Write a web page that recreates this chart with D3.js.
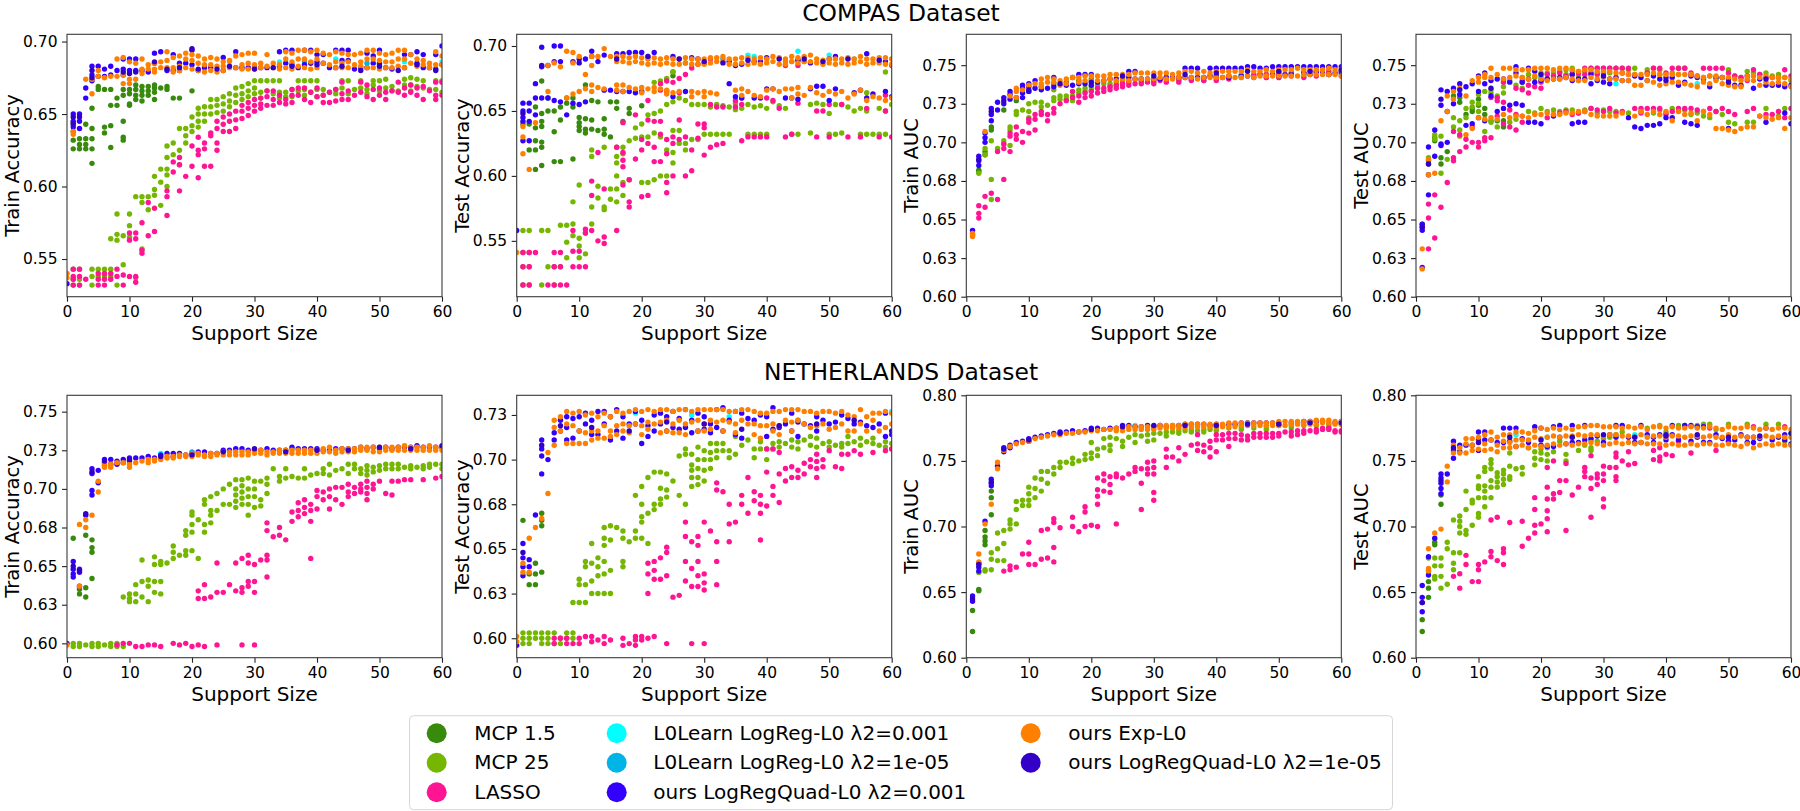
<!DOCTYPE html>
<html><head><meta charset="utf-8">
<script src="https://cdn.jsdelivr.net/npm/d3@7"></script>
<style>
html,body{margin:0;padding:0;background:#fff;}
svg{display:block;font-family:"DejaVu Sans",sans-serif;}
</style></head>
<body><svg id="chart" width="1800" height="811"></svg>
<script>
// ---------- labels / series ----------
const datasetTitles = ["COMPAS Dataset", "NETHERLANDS Dataset"];
const metricLabels = ["Train Accuracy", "Test Accuracy", "Train AUC", "Test AUC"];
const xLabel = "Support Size";
const xTicks = [0, 10, 20, 30, 40, 50, 60];
const xTickLabels = ["0", "10", "20", "30", "40", "50", "60"];
const xDomain = [0, 60];
const seriesKeys = ["mcp15", "mcp25", "lasso", "l0a", "l0b", "q3", "exp", "q5"];
const seriesNames = ["MCP 1.5", "MCP 25", "LASSO", "L0Learn LogReg-L0 λ2=0.001", "L0Learn LogReg-L0 λ2=1e-05", "ours LogRegQuad-L0 λ2=0.001", "ours Exp-L0", "ours LogRegQuad-L0 λ2=1e-05"];
const seriesColors = ["#378a0c", "#74b600", "#ff1493", "#00ffff", "#00b4e8", "#3300ff", "#ff8000", "#3300c8"];

// ---------- y axes ----------
const p1_yDomain = [0.524, 0.705], p1_yTicks = [0.55, 0.60, 0.65, 0.70], p1_yTickLabels = ["0.55", "0.60", "0.65", "0.70"];
const p2_yDomain = [0.507, 0.709], p2_yTicks = [0.55, 0.60, 0.65, 0.70], p2_yTickLabels = ["0.55", "0.60", "0.65", "0.70"];
const p3_yDomain = [0.60, 0.77], p3_yTicks = [0.60, 0.625, 0.65, 0.675, 0.70, 0.725, 0.75], p3_yTickLabels = ["0.60", "0.63", "0.65", "0.68", "0.70", "0.73", "0.75"];
const p4_yDomain = [0.60, 0.77], p4_yTicks = [0.60, 0.625, 0.65, 0.675, 0.70, 0.725, 0.75], p4_yTickLabels = ["0.60", "0.63", "0.65", "0.68", "0.70", "0.73", "0.75"];
const p5_yDomain = [0.5907, 0.7606], p5_yTicks = [0.60, 0.625, 0.65, 0.675, 0.70, 0.725, 0.75], p5_yTickLabels = ["0.60", "0.63", "0.65", "0.68", "0.70", "0.73", "0.75"];
const p6_yDomain = [0.5891, 0.736], p6_yTicks = [0.60, 0.625, 0.65, 0.675, 0.70, 0.725], p6_yTickLabels = ["0.60", "0.63", "0.65", "0.68", "0.70", "0.73"];
const p7_yDomain = [0.60, 0.80], p7_yTicks = [0.60, 0.65, 0.70, 0.75, 0.80], p7_yTickLabels = ["0.60", "0.65", "0.70", "0.75", "0.80"];
const p8_yDomain = [0.60, 0.80], p8_yTicks = [0.60, 0.65, 0.70, 0.75, 0.80], p8_yTickLabels = ["0.60", "0.65", "0.70", "0.75", "0.80"];

// ---------- data: rows are [supportSize, y1, y2, ...] ----------
// Panel 1: COMPAS Train Accuracy
const p1_mcp15 = [[1,.644,.638,.632,.626],[2,.633,.629,.626],[3,.643,.633,.629,.626],[4,.654,.640,.633,.626,.616],[5,.669,.667],[6,.667,.641,.637],[7,.667,.656,.642,.627],[8,.661,.656],[9,.667,.663,.645,.634,.632],[10,.667,.664,.657,.656],[11,.670,.667,.663,.660],[12,.669,.666,.663,.659],[13,.669,.666,.663],[14,.670,.668,.665,.660],[15,.668],[16,.669,.667],[17,.661],[18,.661],[20,.666]];
const p1_mcp25 = [[1,.543,.536,.532],[2,.543,.536,.532],[4,.543,.538,.532],[5,.543,.538],[6,.543,.538],[7,.564,.543,.538],[8,.581,.567,.563,.532],[9,.566,.546],[10,.581,.573,.565],[11,.593,.537],[12,.593,.589,.557],[13,.593,.584],[14,.607,.598,.594],[15,.612,.603,.587],[16,.628,.620,.612,.608,.600],[17,.630,.622],[18,.640,.625,.615],[19,.640,.635,.630],[20,.648,.642,.638],[21,.654,.650,.645,.641],[22,.655,.650,.645],[23,.660,.655,.650],[24,.660,.656,.651],[25,.662,.657,.652],[26,.664,.659,.655],[27,.668,.663,.658],[28,.669,.664,.660],[29,.671,.666,.662],[30,.673,.668,.664],[31,.673,.665,.661],[32,.673,.666],[33,.673,.664],[34,.673,.665,.661],[35,.665,.662],[36,.667,.662],[37,.673,.666],[38,.673,.667,.663],[39,.673,.665],[40,.673,.667,.662],[41,.667,.663],[42,.665],[43,.667,.664],[44,.673,.668],[45,.673,.664],[46,.667],[47,.673,.668],[48,.667,.664],[49,.673,.670],[50,.673,.666],[51,.674,.668],[52,.669,.666],[53,.666],[54,.674,.670],[55,.675,.670,.666],[56,.674,.669],[57,.673,.668],[58,.667],[59,.673,.667],[60,.673,.665]];
const p1_lasso = [[1,.543,.538,.536,.532],[2,.543,.538,.532],[3,.536],[5,.540,.536,.532],[6,.540,.536,.532],[7,.540,.536],[8,.543,.538],[9,.539,.532],[10,.568,.563,.538],[11,.568,.564,.538,.534],[12,.575,.556,.554],[13,.589,.566],[14,.585,.569],[16,.597,.593,.580],[17,.617,.610],[18,.620,.615,.597],[19,.607],[20,.628,.614],[21,.634,.625,.622,.606],[22,.630,.626,.614],[23,.637,.635,.614],[24,.645,.640,.630,.625],[25,.648,.643,.638],[26,.650,.645,.638],[27,.652,.646,.640],[28,.656,.652,.647],[29,.658,.654,.649],[30,.660,.656,.652],[31,.661,.657,.654],[32,.666,.662,.656],[33,.666,.660,.656],[34,.663,.658],[35,.660,.657],[36,.667,.663,.658],[37,.668,.663],[38,.668,.660],[39,.665,.658],[40,.668,.662],[41,.663,.658],[42,.665,.658],[43,.667,.659],[44,.672,.664,.660],[45,.666,.660],[46,.663],[47,.672,.665],[48,.670,.662],[49,.667,.660],[50,.668,.663],[51,.665,.660],[52,.666],[53,.672,.665],[54,.668,.663],[55,.670,.665],[56,.668,.663],[57,.669,.660],[58,.666],[59,.672,.663,.660],[60,.672,.663]];
const p1_l0a = [[26,.686],[34,.686],[43,.688],[50,.684],[54,.686],[60,.686]];
const p1_l0b = [[38,.686],[48,.685]];
const p1_q3 = [[0,.533],[1,.650,.645,.641],[2,.650,.645,.640],[3,.668,.661],[4,.683,.677,.673],[5,.683,.676],[6,.681,.676],[7,.683,.677],[8,.680],[9,.688,.681,.677],[10,.688,.680],[11,.688,.680],[12,.680],[13,.679],[14,.692,.685],[15,.693],[16,.680],[17,.691,.680],[18,.685,.680],[19,.685],[20,.694,.684],[21,.680],[22,.682],[23,.682],[25,.689,.680],[27,.693,.682],[28,.682],[29,.682],[30,.682],[31,.682],[32,.682],[34,.693,.683],[35,.694,.685],[36,.694,.684],[37,.682],[38,.694,.684],[39,.694,.685],[40,.691,.686],[41,.691,.685],[42,.682],[43,.694,.682],[44,.694,.687],[45,.694,.687],[46,.681],[47,.682],[48,.692,.682],[49,.690,.685],[50,.694,.685],[51,.682],[52,.681],[54,.691,.682],[55,.691],[56,.693,.685],[57,.691,.682],[58,.682],[59,.691,.681],[60,.697,.684]];
const p1_exp = [[0,.540,.537],[1,.638,.636],[3,.674],[4,.664,.674],[5,.680,.676],[6,.675],[7,.676],[8,.688,.676],[9,.689,.677,.671],[10,.686,.674,.671],[11,.685,.674],[12,.688,.681,.678],[13,.684,.681],[14,.685,.681,.679],[15,.686,.682],[16,.693,.687,.682],[17,.689,.682,.679],[18,.690,.683,.680],[19,.692,.688,.682],[20,.691,.687,.681],[21,.690,.685,.680],[22,.688,.684,.679],[23,.689,.684,.680],[24,.688,.683,.679],[25,.686,.683,.680],[26,.687,.682],[27,.690,.682],[28,.691,.684,.681],[29,.692,.685,.681],[30,.692,.684,.681],[31,.685,.682],[32,.691,.683],[33,.685,.682],[34,.684,.681],[35,.693,.688,.682],[36,.692,.686,.681],[37,.694,.688,.683],[38,.694,.688,.682],[39,.693,.686,.681],[40,.694,.688,.682],[41,.692,.685],[42,.691,.684],[43,.693,.686,.682],[44,.692,.685,.682],[45,.691,.686,.682],[46,.691,.684],[47,.692,.686,.683],[48,.694,.688,.682],[49,.694,.688,.682],[50,.692,.687,.681],[51,.691,.686,.682],[52,.692,.686,.682],[53,.694,.688,.683],[54,.694,.688,.682],[55,.691,.685],[56,.688,.683],[57,.687,.684],[58,.685,.682],[59,.693,.684],[60,.690,.684]];
const p1_q5 = [[1,.648,.643],[2,.648],[4,.680,.675],[9,.679],[10,.678],[11,.679],[14,.686],[16,.681],[18,.682],[20,.695],[21,.681],[24,.681],[26,.683],[30,.681],[33,.682],[36,.683],[40,.684],[44,.683],[47,.680],[50,.683],[53,.680],[56,.684],[59,.680]];

// Panel 2: COMPAS Test Accuracy
const p2_mcp15 = [[1,.640],[2,.640,.620],[3,.653,.637,.627,.620,.605],[4,.673,.648,.642,.638,.626,.622,.608],[5,.660,.650],[6,.650,.634,.611],[7,.653,.643,.611],[8,.660,.656],[9,.660,.653,.613],[10,.645,.641,.638,.635],[11,.670,.644,.636,.633],[12,.658,.643,.636],[13,.657,.635],[14,.644,.636,.632],[15,.657,.630],[16,.657,.652],[17,.642],[18,.652,.648],[20,.654],[25,.680,.677],[27,.687]];
const p2_mcp25 = [[1,.558,.541,.530,.516],[2,.558,.541,.530,.516],[4,.558,.516],[5,.558,.530],[6,.530,.516],[7,.562,.530],[8,.562,.549,.537],[9,.580,.563,.554],[10,.593,.552,.546,.537],[11,.556,.540],[12,.620,.615,.576,.563],[13,.592,.583],[14,.622,.576,.574],[15,.590,.582],[16,.622,.615,.610,.600,.590,.580],[17,.622,.617,.595,.585],[18,.627,.597],[19,.637,.629],[20,.640,.630,.595],[21,.647,.630,.595],[22,.672,.648,.633,.597],[23,.673,.650,.630,.600],[24,.675,.655,.620,.600],[25,.680,.657,.635,.618,.610],[26,.660,.635,.625],[27,.658,.625,.620],[28,.655,.628],[29,.655,.628],[30,.655,.632],[31,.653,.632],[32,.655,.632],[33,.654,.632],[34,.653,.632],[35,.656,.651],[36,.652],[37,.655,.632],[38,.653,.632],[39,.654,.632],[40,.652,.632],[41,.657],[42,.654],[43,.688,.652],[44,.688,.632],[45,.689,.632],[46,.688],[47,.655,.633],[48,.656],[49,.655],[50,.648,.632],[51,.655,.632],[52,.655,.633],[53,.653],[54,.650],[55,.652,.632],[56,.664,.650,.632],[57,.632],[58,.652,.632],[59,.680,.650,.632],[60,.655]];
const p2_lasso = [[1,.541,.530,.516],[2,.541,.530,.516],[3,.541],[5,.516],[6,.541,.530,.516],[7,.541,.530,.516],[8,.516],[9,.558,.542,.530],[10,.542,.530],[11,.559,.556,.530],[12,.596,.585,.558],[13,.618,.550],[14,.590,.553,.548],[16,.622,.558],[17,.641,.618,.612,.607,.593],[18,.597,.580,.576],[19,.647,.613],[20,.628,.620,.584],[21,.658,.643,.625,.585],[22,.642,.622,.611],[23,.671,.666,.642,.632,.611],[24,.673,.665,.628,.617,.595,.587],[25,.672,.630,.625,.600],[26,.675,.664,.643,.628],[27,.678,.630,.600],[28,.683,.620,.604],[29,.686,.640,.629],[30,.687,.640,.637,.616],[31,.690,.655,.622],[32,.653,.624],[33,.653,.625],[35,.658,.653],[36,.660,.655,.627],[37,.630],[38,.630],[39,.630],[40,.660,.630],[41,.658],[42,.652],[43,.685,.630],[44,.632],[45,.685,.656],[48,.650,.630],[49,.650],[50,.655,.630],[52,.655],[53,.630],[55,.630],[56,.652],[58,.630],[59,.662,.650],[60,.685,.630]];
const p2_l0a = [[37,.693],[38,.692],[45,.696],[50,.693],[54,.690],[60,.690]];
const p2_l0b = [[21,.692],[33,.690]];
const p2_q3 = [[0,.558],[1,.656,.650,.645,.642,.627],[2,.656,.650,.642,.627],[3,.671,.660,.647],[4,.699,.684,.660],[5,.685,.660],[6,.700,.688,.658],[7,.700,.688,.657],[8,.647],[9,.688,.656],[10,.690,.655],[11,.690,.657],[12,.696,.692],[13,.688],[14,.693,.666],[15,.666],[16,.694,.665],[17,.694,.665],[18,.695,.665],[19,.695,.664],[20,.695,.665],[22,.695],[25,.692,.661],[27,.665],[28,.691],[29,.690],[34,.671,.688],[35,.685,.661],[36,.686,.660],[38,.688,.660],[39,.688,.660],[40,.691,.667],[41,.667],[43,.660],[44,.660],[45,.689,.659],[47,.687,.667],[48,.669],[49,.669],[50,.690,.658],[51,.692,.667],[54,.664],[55,.666],[56,.694,.660],[57,.663],[59,.688,.665],[60,.661]];
const p2_exp = [[0,.541],[1,.638,.630,.617],[2,.605],[3,.641],[5,.685,.665],[6,.687],[7,.684],[8,.696,.660],[9,.695,.687,.663],[10,.692,.665],[11,.678,.667],[12,.692,.685,.670,.665],[13,.692,.668],[14,.698,.667],[15,.692],[16,.692,.688,.670,.666],[17,.692,.688,.670,.665],[18,.691,.687,.668],[19,.692,.688,.667],[20,.691,.687,.668,.664],[21,.690,.686,.667],[22,.691,.687,.668,.665],[23,.690,.686,.667],[24,.691,.687,.666,.663],[25,.690,.686,.664],[26,.690,.686,.665],[27,.691,.687],[28,.690,.686,.665,.661],[29,.690,.686,.664],[30,.690,.686,.665,.661],[31,.691,.687,.664],[32,.691,.688,.663],[33,.692,.688],[34,.690,.686],[35,.690,.686,.666],[36,.691,.687,.667,.662],[37,.691,.686,.665],[38,.690,.687,.662],[39,.691,.686,.661],[40,.690,.687,.666],[41,.692,.688,.667],[42,.691,.686,.665],[43,.690,.686,.667],[44,.692,.688,.667,.660],[45,.691,.687,.668,.663],[46,.692,.688,.662],[47,.693,.688,.668],[48,.690,.687,.664],[49,.689,.686,.662],[50,.690,.687,.665],[51,.690,.686,.663],[52,.690,.687,.665],[53,.691,.686,.660],[54,.690,.687,.663],[55,.692,.688,.666],[56,.690,.686,.658],[57,.690,.687,.661],[58,.691,.687,.660],[59,.691,.686,.658],[60,.690,.686,.660]];
const p2_q5 = [[1,.648],[4,.685],[10,.687],[16,.690],[21,.692],[26,.690],[30,.688],[33,.687],[37,.689],[42,.690],[46,.690],[49,.688],[53,.690],[58,.689]];

// Panel 3: COMPAS Train AUC
const p3_mcp15 = [[2,.682,.681],[3,.694,.692],[4,.710,.708],[6,.721],[8,.727],[10,.733],[12,.736],[14,.738],[16,.739],[18,.740],[20,.741]];
const p3_mcp25 = [[2,.680],[3,.696,.692],[4,.701,.676,.663],[5,.696],[6,.701,.699],[7,.710,.708,.698],[8,.720,.718],[9,.721],[10,.725,.720,.716],[11,.726],[12,.726,.723],[13,.724],[14,.734,.729,.727],[15,.730,.728],[16,.730,.728],[17,.730,.727],[18,.734,.732],[19,.735,.733],[20,.736,.734],[21,.737,.735],[22,.738],[23,.738,.736],[24,.739,.737],[25,.740,.738],[26,.740],[28,.741,.739],[30,.741,.739],[32,.741],[34,.742,.740],[36,.741],[38,.742,.740],[40,.743,.741],[42,.743],[44,.744,.742],[46,.743],[48,.744,.742],[50,.745,.742],[52,.745],[54,.745,.743],[56,.746],[58,.748,.745],[60,.746]];
const p3_lasso = [[2,.659,.654,.651],[3,.665,.658],[4,.667],[5,.694,.663],[6,.699,.696,.676],[7,.706,.704,.694],[8,.710,.705,.702],[9,.707,.700],[10,.715,.713,.706],[11,.718,.715,.708],[12,.720,.718],[13,.718,.714],[14,.722,.719],[15,.725],[16,.727],[17,.733,.729],[18,.730,.726],[19,.732,.729],[20,.733,.730],[21,.735,.732],[22,.735,.733],[23,.736,.734],[24,.737,.735],[25,.738,.736],[26,.739,.737],[27,.738],[28,.740,.738],[29,.739],[30,.740,.738],[31,.740],[32,.741,.739],[34,.741,.739],[36,.741,.740],[38,.742,.740],[40,.742,.740],[42,.743,.741],[44,.743],[46,.744,.742],[48,.744,.742],[50,.745,.742],[52,.745,.743],[54,.745,.742],[56,.746,.743],[58,.746,.744],[60,.746,.743]];
const p3_l0a = [[26,.743],[44,.744],[54,.744],[60,.744]];
const p3_l0b = [[32,.742]];
const p3_q3 = [[1,.643,.640],[2,.691,.688,.685],[3,.706,.703,.700],[4,.722,.718,.714],[5,.726,.721],[6,.729,.725],[7,.733,.731,.728],[8,.729],[9,.737,.735,.732,.729],[10,.738,.736,.733],[11,.740,.735],[12,.734],[13,.735],[14,.742,.736],[16,.737],[17,.742,.737],[18,.744,.738],[19,.744,.738],[20,.744,.737],[21,.739],[22,.740],[23,.741],[24,.741],[25,.742],[26,.746,.742],[27,.746,.741],[28,.741],[29,.741],[30,.741],[31,.741],[32,.742],[33,.742],[34,.742],[35,.748,.742],[36,.748,.742],[37,.748,.742],[38,.742],[39,.748,.743],[40,.748,.743],[41,.748,.742],[42,.748,.742],[43,.748],[44,.748,.743],[45,.749,.743],[46,.749],[47,.748,.744],[48,.748],[49,.749,.744],[50,.749,.743],[51,.749,.744],[52,.749,.744],[53,.749],[54,.749,.745],[55,.749,.744],[56,.749,.745],[57,.749,.745],[58,.749,.744],[59,.749,.745],[60,.749,.745]];
const p3_exp = [[1,.641,.639],[3,.707],[7,.730],[8,.735,.733,.729],[9,.734],[10,.737],[11,.738],[12,.741,.738,.736],[13,.742,.739],[14,.741,.739],[15,.740,.737],[16,.741,.738],[17,.742],[18,.742,.739],[19,.743,.740],[20,.743,.740],[21,.743,.740],[22,.743,.740],[23,.744,.741],[24,.744,.740],[25,.744,.741],[26,.744,.740],[27,.745,.741],[28,.745,.741],[29,.745,.741],[30,.745,.741],[31,.745,.742],[32,.745,.741],[33,.744,.741],[34,.745,.742],[35,.746,.742],[36,.746,.742],[37,.745,.741],[38,.746,.742],[39,.745,.742],[40,.746,.742],[41,.746,.742],[42,.746,.743],[43,.746,.742],[44,.746,.742],[45,.747,.743],[46,.746,.742],[47,.746,.743],[48,.747,.743],[49,.746,.743],[50,.747,.743],[51,.747,.743],[52,.747,.743],[53,.748,.743],[54,.747,.744],[55,.747,.744],[56,.747,.744],[57,.747,.744],[58,.748,.744],[59,.747,.744],[60,.747,.743]];
const p3_q5 = [[2,.689],[4,.720],[6,.727],[10,.734],[15,.738],[20,.739],[25,.743],[30,.743],[35,.744],[40,.745],[45,.746],[50,.746],[55,.746],[60,.747]];

// Panel 4: COMPAS Test AUC
const p4_mcp15 = [[1,.647],[2,.688,.686],[3,.703,.701],[4,.690,.686],[5,.694],[6,.730],[7,.729,.726],[8,.718],[9,.722,.720],[10,.728,.724],[11,.722,.718],[12,.714],[13,.714],[14,.714,.710]];
const p4_mcp25 = [[2,.690],[3,.705,.702],[4,.704,.680],[5,.689],[6,.716,.710],[7,.714,.708,.704],[8,.722,.716],[9,.726,.723],[10,.731,.725,.720],[11,.733,.707],[12,.734,.732,.713],[13,.730,.710],[14,.740,.736,.732],[15,.740,.713],[16,.737,.715],[17,.742,.739,.735],[18,.744,.720],[19,.742,.719],[20,.745,.742,.722],[21,.745,.720],[22,.745,.743,.721],[23,.746,.720],[24,.747,.744,.721],[25,.748,.746,.721],[26,.746,.743,.719],[27,.746,.721],[28,.748,.745,.722],[29,.748,.745,.719],[30,.748,.721],[31,.748,.745,.720],[32,.748,.720],[33,.748,.745],[34,.747,.719],[35,.748,.744],[36,.720],[37,.747,.745],[38,.748,.719],[39,.747,.744,.721],[40,.719],[41,.745,.722],[42,.748,.744],[43,.748,.721],[44,.744,.718],[45,.719],[46,.742,.717],[47,.743,.716],[48,.741,.720],[49,.742,.718],[50,.747,.713],[51,.743,.712],[52,.742],[53,.746,.713],[54,.745,.713],[55,.744],[56,.745,.722],[57,.743],[58,.744,.717],[59,.742,.722],[60,.740]];
const p4_lasso = [[1,.645],[2,.660,.651,.631],[3,.666,.638],[4,.658],[5,.674],[6,.707,.690,.688],[7,.705,.694],[8,.702,.697],[9,.710,.700],[10,.700,.697],[11,.701,.703],[12,.729,.703],[13,.729,.727,.717],[14,.739,.726,.712],[15,.721,.710],[16,.735,.718,.708],[17,.740,.734,.717,.713],[18,.737,.732],[19,.736],[20,.739,.735],[21,.744,.741,.716],[22,.743,.718],[23,.745,.741,.719],[24,.743,.720],[25,.744,.718],[26,.745,.719],[27,.748,.744,.720],[28,.748,.745,.722],[29,.748,.744,.721],[30,.748,.745,.720],[31,.748,.722],[32,.748,.719],[33,.748,.745,.720],[34,.748,.744],[35,.722],[36,.722,.719],[37,.745,.722],[38,.748,.722],[39,.748,.722],[40,.745,.718],[41,.748,.720],[42,.748,.722],[43,.748,.722],[44,.745,.722],[45,.743,.721],[46,.748,.720],[47,.748,.722],[48,.748,.720],[49,.748,.722],[50,.745,.720],[51,.743,.718],[52,.742],[53,.740,.720],[54,.747,.722],[55,.744,.717],[56,.742,.718],[57,.742,.718],[58,.742,.720],[59,.747,.716],[60,.743,.722]];
const p4_l0a = [[20,.742],[32,.738],[45,.738],[54,.743]];
const p4_l0b = [[26,.740]];
const p4_q3 = [[1,.647,.643,.619],[2,.697,.679,.666],[3,.708,.691],[4,.734,.724,.699,.698],[5,.733,.720,.700],[6,.735,.725],[7,.738,.731],[8,.736,.711],[9,.738,.712],[10,.743,.733,.716],[11,.745,.738,.714],[12,.740,.730],[13,.741,.720],[14,.741,.722],[15,.739,.724],[16,.749,.745,.725],[17,.739,.724],[18,.748,.741,.713],[19,.746,.739,.713],[20,.740,.712],[21,.741],[22,.741,.717],[23,.742],[24,.742],[25,.744,.740,.712],[26,.741,.713],[27,.741,.713],[28,.744,.738],[29,.740],[30,.739],[31,.741,.738],[32,.742],[33,.740],[34,.740,.716],[35,.743,.710],[36,.742,.709],[37,.740,.711],[38,.743,.711],[39,.741,.712],[40,.742,.716],[41,.742,.716],[42,.737],[43,.739,.713],[44,.743,.712],[45,.742,.711],[46,.741],[47,.736],[48,.742],[49,.742],[50,.741,.709],[51,.737],[52,.737],[53,.743],[54,.735],[55,.741],[56,.737,.713],[57,.737],[58,.737],[59,.736,.719],[60,.737,.712]];
const p4_exp = [[1,.631,.618],[2,.689,.679],[3,.680],[4,.714],[5,.730,.720],[6,.733,.728],[7,.735],[8,.730,.705],[9,.740,.709],[10,.742,.739,.716],[11,.744,.742,.715],[12,.748,.742,.716],[13,.744,.715],[14,.748,.741,.718],[15,.748,.742,.716],[16,.747,.743,.717],[17,.747,.742,.717],[18,.747,.741,.716],[19,.748,.743,.718],[20,.748,.741,.718],[21,.748,.740,.719],[22,.747,.741,.718],[23,.748,.741,.718],[24,.748,.742,.719],[25,.747,.741,.719],[26,.746,.740,.720],[27,.747,.740,.720],[28,.747,.742,.718],[29,.746,.741,.717],[30,.746,.742,.717],[31,.746,.741,.717],[32,.745,.741,.717],[33,.745,.740,.719],[34,.744,.740],[35,.744,.737,.717],[36,.744,.737,.720],[37,.744,.740,.718],[38,.745,.739,.720],[39,.744,.737,.718],[40,.744,.738,.720],[41,.744,.739,.714],[42,.744,.739,.720],[43,.744,.738,.718],[44,.744,.737,.719],[45,.743,.736,.714],[46,.742,.739,.720],[47,.743,.738,.718],[48,.743,.740,.709],[49,.742,.738,.709],[50,.742,.737,.708],[51,.741,.736,.707],[52,.740,.736,.709],[53,.743,.741,.710],[54,.743,.740,.710],[55,.742,.737,.717],[56,.743,.739,.716],[57,.742,.738,.715],[58,.742,.739,.716],[59,.742,.738,.709],[60,.741,.736,.716]];
const p4_q5 = [[1,.645],[2,.686],[4,.728],[7,.734],[12,.735],[20,.744],[30,.743],[40,.740],[50,.739],[56,.741]];

// Panel 5: NETHERLANDS Train Accuracy
const p5_mcp15 = [[1,.668],[2,.635,.632],[3,.670,.636,.630],[4,.667,.662,.659,.642]];
const p5_mcp25 = [[1,.600,.598],[2,.600,.598],[3,.599],[4,.600,.598],[5,.600,.598],[6,.599],[7,.600,.598],[8,.600,.598],[9,.598,.630],[10,.632,.629,.627],[11,.638,.632,.627],[12,.654,.640,.630],[13,.641,.637,.627],[14,.656,.651,.640,.633],[15,.653,.651,.640,.632],[16,.652],[17,.663,.659,.655],[18,.657],[19,.673,.670,.660,.657],[20,.685,.683,.677,.672,.660],[21,.680,.655],[22,.693,.690,.677,.672],[23,.695,.686,.683,.678],[24,.697,.686],[25,.700,.690],[26,.703,.690],[27,.706,.700,.696,.692,.688],[28,.706,.702,.698,.694,.690],[29,.707,.700,.695,.690,.683],[30,.705,.700,.695,.688],[31,.705,.693,.689],[32,.707,.703,.697],[33,.713],[34,.708,.705],[35,.713,.707],[36,.708],[37,.707],[38,.713,.707],[39,.709],[40,.710],[41,.713,.710],[42,.716,.709],[43,.712],[44,.713],[45,.716,.710],[46,.716,.713],[47,.713,.710],[48,.715,.712,.709],[49,.714,.711],[50,.715,.712],[51,.716,.713],[52,.716,.713],[53,.716,.713],[54,.714],[55,.715,.713],[56,.714],[57,.715,.713],[58,.716,.714],[59,.716],[60,.716,.713]];
const p5_lasso = [[8,.599],[9,.600],[10,.600],[11,.598],[12,.598],[13,.599],[14,.599],[15,.598],[17,.600],[18,.599],[19,.600],[20,.598],[21,.599,.634,.629],[22,.638,.629,.598],[23,.630],[24,.652,.633,.599],[25,.633],[26,.638],[27,.652,.634],[28,.655,.636,.633,.599],[29,.657,.652,.640,.637],[30,.651,.640,.633,.599],[31,.654],[32,.678,.673,.657,.654,.643],[33,.669],[34,.675,.670],[35,.667],[36,.685,.679],[37,.691,.686,.682],[38,.693,.688,.684],[39,.690,.686,.679,.655],[40,.699,.695,.687],[41,.698,.693],[42,.700,.695,.687],[43,.701,.693],[44,.701,.690],[45,.703,.698,.695],[46,.701,.697],[47,.703,.700,.698],[48,.705,.701,.697,.693],[49,.703,.700],[50,.705],[51,.697],[52,.705,.696],[53,.705],[54,.706],[55,.706],[57,.706],[59,.707],[60,.708]];
const p5_l0a = [[15,.723],[36,.726]];
const p5_l0b = [[20,.724]];
const p5_q3 = [[0,.600],[1,.653,.648,.645,.643],[2,.648,.646,.637],[3,.683],[4,.713,.710,.699,.696],[5,.712,.704],[6,.719,.717,.715],[7,.719,.716],[8,.718,.716],[9,.719,.717],[10,.720,.718],[11,.720],[12,.720],[13,.721],[14,.720],[15,.722],[16,.723],[17,.723,.721],[18,.723],[19,.722],[20,.723],[21,.724],[22,.724],[23,.723],[24,.723],[25,.725],[26,.725],[27,.726],[28,.726],[29,.725],[30,.725],[31,.725],[32,.726],[33,.725],[34,.725],[35,.725],[36,.727],[37,.726],[38,.726],[39,.726],[40,.726],[41,.725],[42,.725],[43,.726],[44,.726],[45,.726],[46,.726],[47,.727],[48,.726],[49,.727],[50,.726],[51,.727],[52,.726],[53,.727],[54,.727],[55,.727],[56,.728],[57,.727],[58,.727],[59,.727],[60,.727]];
const p5_exp = [[0,.599],[2,.677,.637],[3,.680,.675],[4,.683],[5,.705,.698],[6,.716,.714],[7,.716,.714],[8,.717],[9,.717],[10,.716,.714],[11,.717],[12,.718],[13,.719,.717],[14,.719,.718],[15,.720,.719],[16,.721,.720],[17,.721,.720],[18,.722,.721],[19,.722,.721],[20,.723,.721],[21,.723,.722],[22,.722,.721],[23,.723,.721],[24,.723,.722],[25,.724,.722],[26,.724,.722],[27,.724,.722],[28,.724,.722],[29,.724,.722],[30,.724,.723],[31,.725,.723],[32,.724,.722],[33,.724,.723],[34,.725,.723],[35,.725,.723],[36,.725,.723],[37,.725,.723],[38,.725,.723],[39,.725,.723],[40,.725,.723],[41,.726,.724],[42,.727,.724],[43,.725,.723],[44,.726,.724],[45,.726,.724],[46,.726,.724],[47,.727,.725],[48,.727,.725],[49,.727,.724],[50,.727,.724],[51,.727,.725],[52,.727,.725],[53,.727,.725],[54,.728,.725],[55,.727,.725],[56,.727,.725],[57,.727,.725],[58,.728,.725],[59,.727,.725],[60,.727,.725]];
const p5_q5 = [[1,.650],[2,.647],[3,.684],[4,.711],[6,.718],[10,.719],[15,.721],[20,.722],[25,.724],[30,.726],[35,.724],[40,.725],[45,.725],[50,.727],[55,.726],[60,.728]];

// Panel 6: NETHERLANDS Test Accuracy
const p6_mcp15 = [[1,.666],[2,.636,.630],[3,.642,.636,.630],[4,.670,.666,.663,.637]];
const p6_mcp25 = [[1,.603,.600,.597],[2,.603,.600,.597],[3,.603,.600],[4,.603,.600,.597],[5,.603,.600,.597],[6,.603,.597],[7,.600,.597],[8,.603,.600],[9,.603,.600,.620],[10,.633,.630,.620],[11,.643,.640,.630,.620],[12,.653,.642,.632,.625],[13,.645,.640,.635,.625],[14,.662,.656,.652,.643,.636,.625],[15,.663,.655,.638,.625],[16,.662],[17,.660,.656,.643,.640],[18,.654],[19,.680,.660,.656],[20,.685,.675,.668,.665,.656],[21,.690,.670,.653],[22,.693,.675,.672],[23,.693,.684,.678,.675],[24,.692,.683,.679],[25,.688],[26,.702,.680],[27,.706,.703,.675],[28,.703,.697,.694,.690,.685],[29,.707,.700,.695,.690,.686],[30,.705,.700,.694,.688],[31,.709,.704,.700,.695],[32,.709,.705,.701],[33,.709,.705],[34,.705,.701],[35,.713,.703],[36,.708],[37,.711],[38,.706,.701],[39,.710,.706],[40,.706,.700],[41,.709,.706],[42,.710,.707],[43,.709],[44,.711,.707],[45,.710,.706],[46,.711],[47,.713,.708],[48,.712,.707],[49,.709],[50,.710,.707],[51,.708],[52,.709,.707],[53,.713,.709],[54,.710],[55,.712,.708],[56,.710],[57,.712,.709],[58,.708],[59,.710,.707],[60,.709,.706]];
const p6_lasso = [[6,.600,.597],[7,.600],[8,.600,.597],[9,.597],[10,.600,.597],[11,.601],[12,.601,.598],[13,.599],[14,.601,.597],[15,.599],[17,.600,.596],[18,.597],[19,.601,.599,.596],[20,.601,.599],[21,.600,.642,.636,.625],[22,.643,.638,.633,.601],[23,.645,.633],[24,.651,.648,.635,.597],[25,.623],[26,.624],[27,.665,.657,.643,.632],[28,.654,.639,.629,.597],[29,.657,.652,.643,.635,.629],[30,.665,.636,.631,.627,.597],[31,.660],[32,.687,.683,.654,.643,.630],[33,.682],[34,.675,.664,.654],[35,.665],[36,.680,.675],[37,.690,.670],[38,.682,.677],[39,.680,.675,.670,.655],[40,.706,.693,.674],[41,.706,.685,.680],[42,.704,.692,.676],[43,.695,.688],[44,.696,.690],[45,.694,.690],[46,.698,.692],[47,.700,.696],[48,.703,.699,.695,.690],[49,.700,.696],[50,.705],[51,.696],[52,.703,.695],[53,.703],[54,.705],[55,.703],[57,.704],[59,.705],[60,.706]];
const p6_l0a = [[19,.726],[28,.725],[34,.724],[60,.727]];
const p6_l0b = [[45,.722]];
const p6_q3 = [[0,.596],[1,.653,.645,.640,.635],[2,.644,.640],[3,.669],[4,.711,.706,.702,.692],[5,.700],[6,.715,.711],[7,.722,.716],[8,.724,.718,.711],[9,.723,.712],[10,.724,.716],[11,.726,.720],[12,.722,.714],[13,.727,.714],[14,.727,.720],[15,.724,.711],[16,.728,.716],[17,.724,.712],[18,.720],[19,.727,.720],[20,.722,.709],[21,.719,.713],[22,.725,.716],[23,.726,.720],[24,.724,.716],[25,.727,.718],[26,.723,.717],[27,.728,.718],[28,.722,.715],[29,.726,.716],[30,.724,.717],[31,.720,.715],[32,.728,.718],[33,.729,.716],[34,.722],[35,.727,.714],[36,.726,.712],[37,.723],[38,.722],[39,.725],[40,.724,.713],[41,.729,.717],[42,.718],[43,.720],[44,.726,.716],[45,.721,.713],[46,.720],[47,.719],[48,.724,.716],[49,.722],[50,.720],[51,.721],[52,.725],[53,.723],[54,.720],[55,.721],[56,.719],[57,.718],[58,.720],[59,.726,.713],[60,.714]];
const p6_exp = [[0,.601,.598],[1,.642,.637],[2,.656,.637],[3,.662],[4,.667],[5,.704,.681],[6,.722,.718,.708],[7,.724,.716],[8,.727,.720,.709],[9,.726,.719,.709],[10,.727,.716,.709],[11,.725,.715,.709],[12,.726,.716,.711],[13,.724,.716,.712],[14,.726,.719,.712],[15,.724,.716,.713],[16,.727,.719,.714],[17,.726,.720,.716],[18,.727,.719,.715],[19,.728,.720],[20,.727,.719,.714],[21,.728,.721,.717],[22,.727,.720],[23,.728,.721,.715],[24,.728,.722,.716],[25,.727,.720,.715],[26,.728,.722,.715],[27,.728,.720,.714],[28,.727,.721],[29,.728,.722,.716],[30,.728,.720,.716],[31,.728,.722,.717],[32,.728,.721],[33,.728,.722,.716],[34,.727,.721],[35,.727,.720,.715],[36,.728,.722],[37,.728,.720],[38,.727,.720,.714],[39,.726,.719,.712],[40,.726,.719],[41,.727,.720,.716],[42,.727,.719,.714],[43,.728,.722],[44,.728,.721,.716],[45,.728,.722],[46,.727,.720],[47,.727,.718],[48,.726,.719],[49,.727,.720],[50,.727,.717],[51,.726,.718],[52,.727,.720],[53,.725,.716],[54,.724,.716],[55,.728,.720],[56,.724,.716],[57,.726,.722],[58,.726,.716],[59,.727,.718],[60,.726,.720]];
const p6_q5 = [[1,.648],[4,.708],[7,.719],[12,.718],[18,.716],[24,.721],[30,.720],[36,.717],[42,.719],[48,.720],[54,.722],[60,.716]];

// Panel 7: NETHERLANDS Train AUC
const p7_mcp15 = [[1,.636,.620],[2,.652,.651],[3,.697,.692,.689,.686],[4,.727,.722,.709]];
const p7_mcp25 = [[2,.665],[3,.667,.666],[4,.680,.675,.667],[5,.695,.683,.674],[6,.697,.687,.674],[7,.705,.702,.698],[8,.719,.713,.702],[9,.720,.716],[10,.730,.725,.720,.716],[11,.737,.729,.722],[12,.742,.736,.727],[13,.742,.733],[14,.745,.740],[15,.749,.745],[16,.749],[17,.752,.748],[18,.750],[19,.755,.751],[20,.764,.756,.752],[21,.759,.754],[22,.767,.760],[23,.768,.762,.758],[24,.767],[25,.765,.761],[26,.768],[27,.770,.764],[28,.769],[29,.770,.765],[30,.771,.766],[31,.771],[32,.772,.769],[33,.772],[34,.773,.771],[35,.773],[36,.774,.772],[37,.773],[38,.774,.772],[39,.774],[40,.775,.773],[42,.775],[44,.776,.774],[46,.775],[48,.776,.774],[50,.777],[52,.777,.775],[54,.777],[56,.777],[58,.778,.776],[60,.778]];
const p7_lasso = [[6,.666],[7,.670,.667],[8,.669],[9,.679],[10,.688,.679,.671],[11,.671],[12,.697,.675],[13,.698,.676],[14,.706,.703,.684,.673],[15,.699],[17,.707,.700],[18,.696],[19,.715,.711,.700],[20,.701],[21,.737,.728,.723,.717,.700],[22,.740,.735,.727],[23,.738,.732,.726],[24,.740,.738,.702],[25,.737],[26,.740],[27,.745,.742],[28,.744,.733,.713],[29,.749,.744,.740],[30,.750,.745,.740,.726,.720],[32,.759,.753,.745],[33,.753],[34,.760,.750],[35,.755],[36,.762],[37,.770,.763,.758],[38,.762,.757],[39,.765,.760,.753],[40,.770,.766,.757],[41,.770,.766],[42,.771,.767,.761],[43,.771,.767],[44,.770,.766],[45,.769,.766],[46,.771,.768],[47,.771,.768],[48,.771,.768],[49,.771,.768],[50,.771,.769],[51,.772],[52,.772,.769],[53,.773,.770],[54,.773,.771],[55,.773],[56,.774,.772],[57,.775,.774],[58,.775,.774],[59,.773,.772],[60,.773,.772]];
const p7_l0a = [[27,.777],[45,.779]];
const p7_l0b = [[33,.777]];
const p7_q3 = [[1,.647,.643],[2,.672,.669,.666],[3,.704],[4,.736,.733,.731],[5,.746],[6,.760,.757],[7,.762,.760],[8,.764],[9,.765],[10,.767,.765],[11,.768],[12,.769],[13,.770],[14,.771],[15,.772],[16,.772],[17,.773],[18,.772],[19,.773],[20,.775],[21,.775],[22,.774],[23,.775],[24,.775],[25,.777],[26,.777],[27,.776],[28,.776],[29,.777],[30,.776],[31,.777],[32,.776],[33,.776],[34,.777],[35,.778],[36,.778],[37,.778],[38,.778],[39,.777],[40,.778],[41,.777],[42,.778],[43,.778],[44,.779],[45,.779],[46,.779],[47,.779],[48,.779],[49,.779],[50,.779],[52,.779],[53,.779],[54,.780],[55,.780],[56,.780],[57,.780],[59,.779],[60,.780]];
const p7_exp = [[2,.679,.673],[3,.702],[4,.717],[5,.749,.744],[6,.758],[7,.761],[8,.763],[9,.764],[10,.765],[11,.767],[12,.768],[13,.769],[14,.770],[15,.770],[16,.771],[17,.771],[18,.772],[19,.772],[20,.773],[21,.773],[22,.774],[23,.774],[24,.775,.773],[25,.775,.773],[26,.776,.774],[27,.776,.774],[28,.776,.774],[29,.776,.774],[30,.776,.774],[31,.777,.775],[32,.777,.775],[33,.777,.775],[34,.777,.775],[35,.778,.775],[36,.778,.776],[37,.778,.776],[38,.778,.776],[39,.778,.776],[40,.778,.776],[41,.778,.776],[42,.779,.776],[43,.779,.776],[44,.779,.777],[45,.779,.777],[46,.779,.777],[47,.779,.777],[48,.779,.777],[49,.779,.777],[50,.780,.777],[51,.780,.777],[52,.780,.778],[53,.780,.778],[54,.780,.778],[55,.780,.778],[56,.781,.778],[57,.781,.779],[58,.781,.779],[59,.780,.778],[60,.780,.778]];
const p7_q5 = [[1,.645],[2,.671],[4,.734],[6,.759],[10,.766],[15,.771],[20,.774],[25,.776],[30,.777],[35,.777],[40,.777],[45,.778],[50,.778],[55,.779],[60,.779]];

// Panel 8: NETHERLANDS Test AUC
const p8_mcp15 = [[1,.629,.620],[2,.658,.653,.646],[3,.688,.686],[4,.724,.717]];
const p8_mcp25 = [[2,.676,.666],[3,.676,.670,.662,.660],[4,.676,.670,.662,.653],[5,.688,.683,.656],[6,.705,.680,.672,.667],[7,.708,.704,.700,.695,.680],[8,.727,.713,.697,.694],[9,.720,.718,.701],[10,.738,.731,.729,.722,.710,.707],[11,.745,.742,.731,.727,.722,.715],[12,.751,.748,.744,.735,.730,.722],[13,.741,.738,.734,.730],[14,.743,.740,.736,.732],[15,.756,.746,.738,.736],[16,.744],[17,.745,.740],[18,.760],[19,.757,.752,.747],[20,.759,.756,.751],[21,.760,.755,.750],[22,.757],[23,.765],[24,.755,.750],[25,.768],[26,.758],[27,.762],[28,.760,.758],[29,.765],[30,.767],[31,.768],[32,.770],[33,.772],[35,.769],[37,.775],[39,.777],[40,.772],[42,.777],[43,.777],[45,.777],[46,.778],[47,.778],[48,.774],[50,.778],[53,.778],[56,.778],[58,.778],[59,.765]];
const p8_lasso = [[6,.662],[7,.664,.653],[8,.678,.671],[9,.658],[10,.671,.667,.658],[11,.673],[12,.705,.681,.677],[13,.707,.674],[14,.683,.680,.671],[15,.703],[17,.704,.685],[18,.691],[19,.722,.713,.701,.695],[20,.702],[21,.745,.730,.721,.712,.706,.696],[22,.750,.725,.721],[23,.735,.726],[24,.748,.735,.697],[25,.724],[26,.730],[27,.745,.742,.738],[28,.754,.737,.729,.707],[29,.740,.737,.732],[30,.746,.740,.735,.721,.715],[31,.745],[32,.756,.753,.745,.738,.735],[33,.750],[34,.757,.747],[35,.748],[38,.758,.751],[39,.760,.753,.750],[40,.755],[41,.754],[42,.765],[44,.756],[47,.775],[48,.758],[50,.765],[54,.776],[59,.776]];
const p8_l0a = [[16,.770],[21,.768],[35,.770],[60,.771]];
const p8_l0b = [[28,.766]];
const p8_q3 = [[1,.655,.646,.642,.635],[2,.677,.663],[3,.691],[4,.740,.737,.733,.729,.725],[5,.740],[6,.765,.758,.752],[7,.762,.757],[8,.762],[9,.762],[10,.772,.766,.758],[11,.772,.766],[12,.766],[13,.764],[14,.775,.764],[15,.775,.765],[16,.775,.761],[17,.767],[18,.764],[19,.776],[20,.775,.762],[21,.761],[22,.776,.761],[23,.777,.768],[24,.763],[25,.777,.764],[26,.764],[27,.777,.766],[28,.767],[29,.769],[30,.764],[31,.770],[32,.777,.768],[33,.777],[34,.768],[35,.764],[36,.777,.764],[37,.770],[38,.768,.764],[39,.770],[40,.770,.766],[41,.777,.770],[42,.766],[43,.777],[44,.777,.765],[45,.776,.768],[46,.776,.764],[47,.764],[48,.770],[49,.767],[50,.765],[51,.766],[52,.770],[53,.768,.764],[54,.768,.764],[55,.767],[56,.775],[57,.766],[58,.768],[59,.770,.766],[60,.763]];
const p8_exp = [[2,.683,.668,.666],[3,.695],[4,.698],[5,.746,.734],[6,.762,.756],[7,.760,.756],[8,.767,.763,.756],[9,.767,.762,.758],[10,.768,.764,.759],[11,.770,.763,.758],[12,.772,.766,.759],[13,.768,.762,.757],[14,.770,.765,.760],[15,.770,.764,.760],[16,.772,.766,.761],[17,.772,.766,.762],[18,.771,.766,.760],[19,.773,.768,.762],[20,.775,.767,.761],[21,.774,.768,.762],[22,.775,.769,.763],[23,.774,.768,.762],[24,.775,.769,.763],[25,.774,.769,.762],[26,.776,.770,.763],[27,.776,.769,.763],[28,.777,.770,.764],[29,.777,.770,.763],[30,.776,.769,.762],[31,.776,.770,.763],[32,.776,.770,.764],[33,.775,.769,.763],[34,.776,.769,.764],[35,.775,.768,.763],[36,.776,.770,.764],[37,.774,.768,.763],[38,.776,.769,.763],[39,.776,.769,.763],[40,.775,.768,.762],[41,.776,.769,.763],[42,.775,.769,.762],[43,.775,.768,.762],[44,.776,.769,.763],[45,.775,.769,.762],[46,.775,.768,.763],[47,.776,.769,.763],[48,.775,.768,.762],[49,.774,.768,.762],[50,.776,.770,.763],[51,.775,.768,.762],[52,.775,.769,.761],[53,.776,.768,.763],[54,.775,.768,.760],[55,.774,.768,.762],[56,.775,.769,.763],[57,.774,.768,.762],[58,.775,.769,.763],[59,.775,.768,.762],[60,.774,.768,.762]];
const p8_q5 = [[1,.642],[4,.735],[6,.760],[10,.764],[15,.768],[20,.766],[25,.768],[30,.770],[35,.768],[40,.769],[45,.770],[50,.768],[55,.769],[60,.771]];

// ---------- panel table built from the arrays ----------
const panels = [
  {row:0,col:0,yDomain:p1_yDomain,yTicks:p1_yTicks,yLabels:p1_yTickLabels,data:[p1_mcp15,p1_mcp25,p1_lasso,p1_l0a,p1_l0b,p1_q3,p1_exp,p1_q5]},
  {row:0,col:1,yDomain:p2_yDomain,yTicks:p2_yTicks,yLabels:p2_yTickLabels,data:[p2_mcp15,p2_mcp25,p2_lasso,p2_l0a,p2_l0b,p2_q3,p2_exp,p2_q5]},
  {row:0,col:2,yDomain:p3_yDomain,yTicks:p3_yTicks,yLabels:p3_yTickLabels,data:[p3_mcp15,p3_mcp25,p3_lasso,p3_l0a,p3_l0b,p3_q3,p3_exp,p3_q5]},
  {row:0,col:3,yDomain:p4_yDomain,yTicks:p4_yTicks,yLabels:p4_yTickLabels,data:[p4_mcp15,p4_mcp25,p4_lasso,p4_l0a,p4_l0b,p4_q3,p4_exp,p4_q5]},
  {row:1,col:0,yDomain:p5_yDomain,yTicks:p5_yTicks,yLabels:p5_yTickLabels,data:[p5_mcp15,p5_mcp25,p5_lasso,p5_l0a,p5_l0b,p5_q3,p5_exp,p5_q5]},
  {row:1,col:1,yDomain:p6_yDomain,yTicks:p6_yTicks,yLabels:p6_yTickLabels,data:[p6_mcp15,p6_mcp25,p6_lasso,p6_l0a,p6_l0b,p6_q3,p6_exp,p6_q5]},
  {row:1,col:2,yDomain:p7_yDomain,yTicks:p7_yTicks,yLabels:p7_yTickLabels,data:[p7_mcp15,p7_mcp25,p7_lasso,p7_l0a,p7_l0b,p7_q3,p7_exp,p7_q5]},
  {row:1,col:3,yDomain:p8_yDomain,yTicks:p8_yTicks,yLabels:p8_yTickLabels,data:[p8_mcp15,p8_mcp25,p8_lasso,p8_l0a,p8_l0b,p8_q3,p8_exp,p8_q5]}
];

// ---------- layout ----------
const colLefts = [67, 516.7, 966.3, 1416];
const rowTops = [34.3, 395.3];
const axW = 375, axH = 262.4;
const FONT = "'DejaVu Sans', sans-serif";
const svg = d3.select("#chart");
const defs = svg.append("defs");

// Row titles
datasetTitles.forEach((t, r) => {
  svg.append("text").attr("x", 901).attr("y", r === 0 ? 20.5 : 379.5)
    .attr("text-anchor", "middle").attr("font-size", 23.4).attr("font-family", FONT)
    .attr("fill", "#000").text(t);
});

panels.forEach((p, i) => {
  const left = colLefts[p.col], top = rowTops[p.row];
  const x = d3.scaleLinear().domain(xDomain).range([left, left + axW]);
  const y = d3.scaleLinear().domain(p.yDomain).range([top + axH, top]);
  const clipId = "clip" + i;
  defs.append("clipPath").attr("id", clipId).append("rect")
    .attr("x", left).attr("y", top).attr("width", axW).attr("height", axH);

  const g = svg.append("g");
  const pts = g.append("g").attr("clip-path", `url(#${clipId})`);
  p.data.forEach((rows, si) => {
    const flat = rows.flatMap(r => r.slice(1).map(v => [r[0], v]));
    pts.selectAll(null).data(flat).enter().append("circle")
      .attr("cx", d => x(d[0])).attr("cy", d => y(d[1])).attr("r", 2.7)
      .attr("fill", seriesColors[si]);
  });

  // axes
  const xa = g.append("g").attr("transform", `translate(0,${top + axH})`)
    .call(d3.axisBottom(x).tickValues(xTicks).tickFormat((d, k) => xTickLabels[k]).tickSize(5).tickPadding(4.5));
  const ya = g.append("g").attr("transform", `translate(${left},0)`)
    .call(d3.axisLeft(y).tickValues(p.yTicks).tickFormat((d, k) => p.yLabels[k]).tickSize(5).tickPadding(4.5));
  [xa, ya].forEach(a => {
    a.select(".domain").remove();
    a.selectAll("line").attr("stroke", "#222").attr("stroke-width", 1.1);
    a.selectAll("text").attr("font-size", 15.5).attr("font-family", FONT).attr("fill", "#000");
  });
  xa.selectAll("text").attr("dy", "0.71em");

  // spines
  g.append("rect").attr("x", left).attr("y", top).attr("width", axW).attr("height", axH)
    .attr("fill", "none").attr("stroke", "#3a3a3a").attr("stroke-width", 1.1);

  // labels
  g.append("text").attr("x", left + axW / 2).attr("y", top + axH + 43.3)
    .attr("text-anchor", "middle").attr("font-size", 20).attr("font-family", FONT).text(xLabel);
  g.append("text").attr("transform", `translate(${left - 48},${top + axH / 2}) rotate(-90)`)
    .attr("text-anchor", "middle").attr("font-size", 19.6).attr("font-family", FONT).text(metricLabels[p.col]);
});

// ---------- legend ----------
const legCols = [436.7, 616.7, 1030.7];
const legTextX = [474.3, 653.3, 1068.3];
const legRows = [733.3, 762.7, 792.3];
const legPos = [[0,0],[0,1],[0,2],[1,0],[1,1],[1,2],[2,0],[2,1]];
const leg = svg.append("g");
leg.append("rect").attr("x", 409.5).attr("y", 715.7).attr("width", 983).attr("height", 94)
  .attr("rx", 4).attr("fill", "#fff").attr("fill-opacity", 0.8).attr("stroke", "#d6d6d6").attr("stroke-width", 1);
seriesNames.forEach((name, i) => {
  const [c, r] = legPos[i];
  leg.append("circle").attr("cx", legCols[c]).attr("cy", legRows[r]).attr("r", 10).attr("fill", seriesColors[i]);
  leg.append("text").attr("x", legTextX[c]).attr("y", legRows[r] + 6.6)
    .attr("font-size", 20).attr("font-family", FONT).attr("fill", "#000").text(name);
});
</script>
</body></html>
